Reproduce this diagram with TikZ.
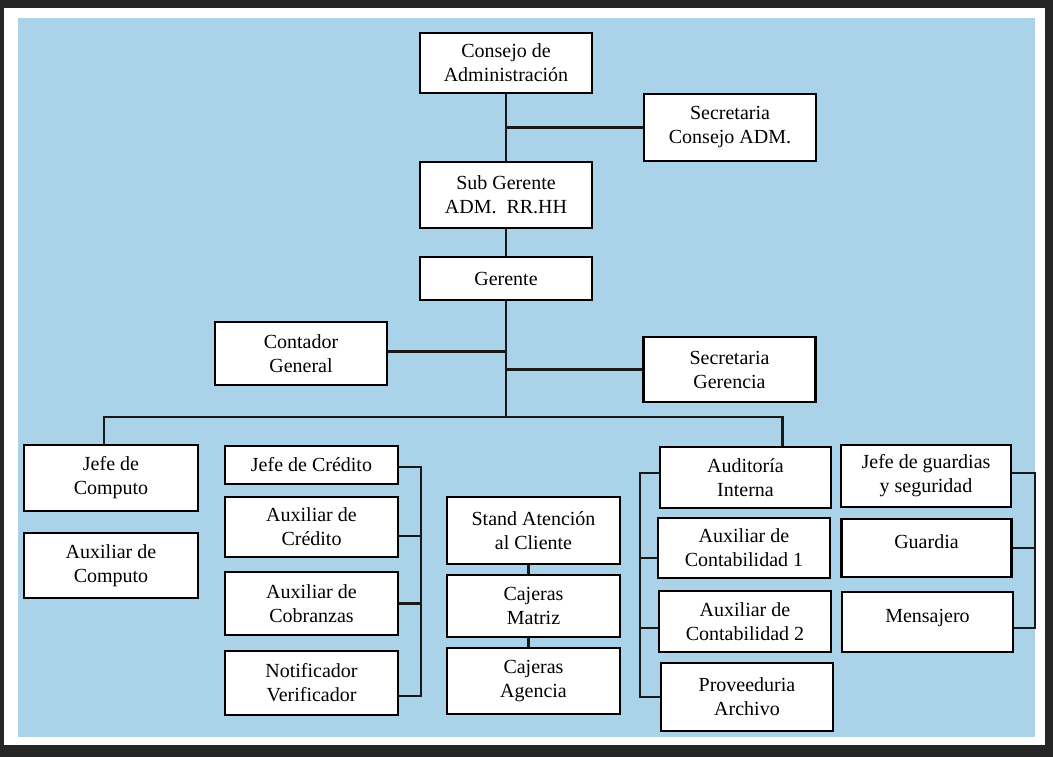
\documentclass[tikz,border=0pt]{standalone}
\usepackage{fontspec}
\setmainfont{Liberation Serif}
\definecolor{fondo}{RGB}{170,211,234}

\begin{document}
\begin{tikzpicture}[x=1pt, y=-1pt,
    cargo/.style={rectangle, minimum width=172pt, minimum height=62pt, inner sep=0pt, text centered, align=center, draw=black, fill=white, line width=2.8pt, font=\fontsize{20}{24}\selectfont},
    link/.style={line width=2.4pt, draw=black!90}
]

% Frame and background
\useasboundingbox (0,0) rectangle (1053,757);
\fill[black!85] (0,0) rectangle (1053,757);
\fill[white] (4,8) rectangle (1045,745);
\fill[fondo] (18,18) rectangle (1035,737);

% Top of the chart
\node[cargo, minimum height=60pt] (consejo) at (506,63) {Consejo de\\Administración};
\node[cargo, minimum height=67pt] (secConsejo) at (730,127.5) {Secretaria\\Consejo ADM.};
\node[cargo, minimum height=66pt] (subGerente) at (506,195) {Sub Gerente\\ADM.~~RR.HH};
\node[cargo, minimum height=43pt] (gerente) at (506,278.5) {Gerente};
\node[cargo, minimum height=63pt] (contador) at (301,353.5) {Contador\\General};
\node[cargo, minimum height=65pt] (secGerencia) at (729.5,369.5) {Secretaria\\Gerencia};

% Computo
\node[cargo, minimum width=174pt, minimum height=66pt] (jefeComputo) at (111,478) {Jefe de\\Computo};
\node[cargo, minimum width=174pt, minimum height=65pt] (auxComputo) at (111,565.5) {Auxiliar de\\Computo};

% Credito
\node[cargo, minimum width=173pt, minimum height=38pt] (jefeCredito) at (311.5,465) {Jefe de Crédito};
\node[cargo, minimum width=173pt, minimum height=60pt] (auxCredito) at (311.5,527) {Auxiliar de\\Crédito};
\node[cargo, minimum width=173pt, minimum height=63pt] (auxCobranzas) at (311.5,603.5) {Auxiliar de\\Cobranzas};
\node[cargo, minimum width=173pt, minimum height=64pt] (notificador) at (311.5,683) {Notificador\\Verificador};

% Atencion y cajas
\node[cargo, minimum width=173pt, minimum height=67pt] (stand) at (533.5,530.5) {Stand Atención\\al Cliente};
\node[cargo, minimum width=173pt, minimum height=62pt] (cajMatriz) at (533.5,606) {Cajeras\\Matriz};
\node[cargo, minimum width=173pt, minimum height=66pt] (cajAgencia) at (533.5,681) {Cajeras\\Agencia};

% Auditoria
\node[cargo, minimum width=171pt, minimum height=61pt] (auditoria) at (745.5,477.5) {Auditoría\\Interna};
\node[cargo, minimum width=172pt, minimum height=60pt] (auxCont1) at (744,548) {Auxiliar de\\Contabilidad 1};
\node[cargo, minimum width=172pt, minimum height=61pt] (auxCont2) at (745,621.5) {Auxiliar de\\Contabilidad 2};
\node[cargo, minimum width=172pt, minimum height=68pt] (proveeduria) at (747,697) {Proveeduria\\Archivo};

% Seguridad
\node[cargo, minimum width=170pt, minimum height=62pt] (jefeGuardias) at (926,476) {Jefe de guardias\\y seguridad};
\node[cargo, minimum width=170pt, minimum height=58pt, text depth=13pt] (guardia) at (926.5,548) {Guardia};
\node[cargo, minimum width=171pt, minimum height=60pt, text depth=13pt] (mensajero) at (927.5,622) {Mensajero};

% Main line
\coordinate (bus) at (506,417);
\draw[link] (consejo.south) -- (subGerente.north);
\draw[link] (secConsejo.west) -- (secConsejo.west -| consejo.south);
\draw[link] (subGerente.south) -- (gerente.north);
\draw[link] (gerente.south) -- (bus);
\draw[link] ([yshift=2pt]contador.east) -- ([yshift=2pt]contador.east -| bus);
\draw[link] (secGerencia.west) -- (secGerencia.west -| bus);
\draw[link] ([xshift=-7pt]jefeComputo.north) |- (bus) -| ([xshift=37pt]auditoria.north);

% Credito bracket
\coordinate (credBus) at (421,467);
\draw[link] ([yshift=-2pt]jefeCredito.east) -- (credBus) |- ([yshift=-13pt]notificador.east);
\draw[link] ([yshift=-9pt]auxCredito.east) -- ([yshift=-9pt]auxCredito.east -| credBus);
\draw[link] (auxCobranzas.east) -- (auxCobranzas.east -| credBus);

% Cajas
\draw[link] ([xshift=-5pt]stand.south) -- ([xshift=-5pt]cajMatriz.north);
\draw[link] ([xshift=-5pt]cajMatriz.south) -- ([xshift=-5pt]cajAgencia.north);

% Auditoria bracket
\coordinate (audBus) at (640,473);
\draw[link] ([yshift=4.5pt]auditoria.west) -- (audBus) |- (proveeduria.west);
\draw[link] ([yshift=-10pt]auxCont1.west) -- ([yshift=-10pt]auxCont1.west -| audBus);
\draw[link] ([yshift=-6.5pt]auxCont2.west) -- ([yshift=-6.5pt]auxCont2.west -| audBus);

% Seguridad bracket
\coordinate (guardBus) at (1035,473);
\draw[link] ([yshift=3pt]jefeGuardias.east) -- (guardBus) |- ([yshift=-6pt]mensajero.east);
\draw[link] (guardia.east) -- (guardia.east -| guardBus);

\end{tikzpicture}
\end{document}
